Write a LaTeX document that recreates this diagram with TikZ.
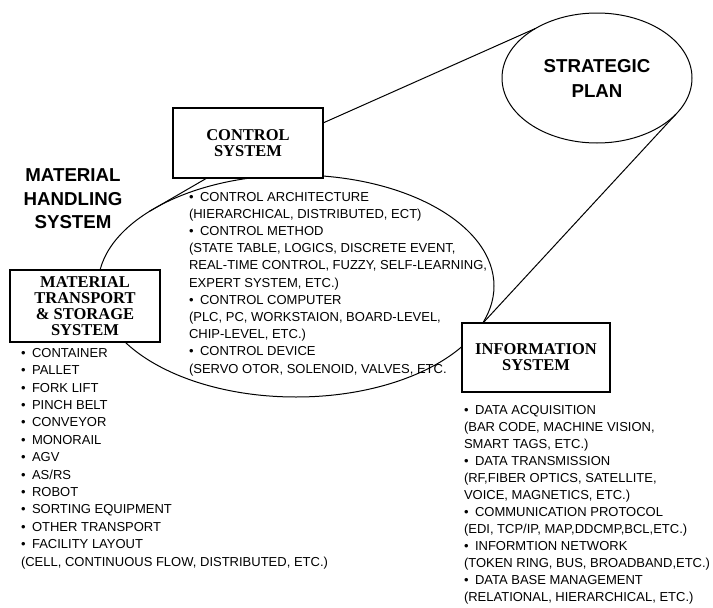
\documentclass[tikz,border=0pt]{standalone}
\usepackage{fontspec}
\setmainfont{Liberation Sans}
\newfontfamily\titlefont{Liberation Serif}
\usetikzlibrary{shapes.geometric}
\newcommand{\bul}{\textbullet\hspace{0.5em}}

\begin{document}
\begin{tikzpicture}[
  x=1pt, y=-1pt,
  every node/.style={inner sep=0pt, outer sep=0pt},
  sysbox/.style={draw, fill=white, line width=1.2pt, minimum width=150pt, minimum height=70pt, align=center, font=\titlefont\bfseries\fontsize{16.5}{16}\selectfont},
  bubble/.style={draw, ellipse, line width=1pt},
  heading/.style={align=center, font=\bfseries\fontsize{18.7}{23.4}\selectfont},
  itemlist/.style={anchor=north west, align=left, font=\fontsize{13}{17.2}\selectfont},
  link/.style={line width=1pt}
]
\useasboundingbox (0,0) rectangle (713,608);

\node[bubble, minimum width=396pt, minimum height=222pt] (hand) at (296,286) {};
\node[bubble, heading, minimum width=190pt, minimum height=130pt, font=\bfseries\fontsize{18.7}{25}\selectfont] (strat) at (597,78) {STRATEGIC\\PLAN};

\node[sysbox] (ctrl) at (248,143) {CONTROL\\SYSTEM};
\node[sysbox, minimum width=148pt, minimum height=69pt] (info) at (536,357.5) {INFORMATION\\SYSTEM};
\node[sysbox, minimum height=72pt] (mat) at (85,306) {MATERIAL\\TRANSPORT\\\& STORAGE\\SYSTEM};

\node[heading] (mhs) at (73,199) {MATERIAL\\HANDLING\\SYSTEM};

\draw[link] ([yshift=-15pt]ctrl.north east) -- (strat.141);
\draw[link] (strat.-25) -- ([xshift=21pt]info.north west);
\draw[link] ([xshift=34pt]ctrl.south west) -- (hand.153);

\node[itemlist] (ctrlitems) at (189,192) {\bul CONTROL ARCHITECTURE\\(HIERARCHICAL, DISTRIBUTED, ECT)\\\bul CONTROL METHOD\\(STATE TABLE, LOGICS, DISCRETE EVENT,\\REAL-TIME CONTROL, FUZZY, SELF-LEARNING,\\EXPERT SYSTEM, ETC.)\\\bul CONTROL COMPUTER\\(PLC, PC, WORKSTAION, BOARD-LEVEL,\\CHIP-LEVEL, ETC.)\\\bul CONTROL DEVICE\\(SERVO OTOR, SOLENOID, VALVES, ETC.};

\node[itemlist, font=\fontsize{13}{17.4}\selectfont] (matitems) at (21,348.3) {\bul CONTAINER\\\bul PALLET\\\bul FORK LIFT\\\bul PINCH BELT\\\bul CONVEYOR\\\bul MONORAIL\\\bul AGV\\\bul AS/RS\\\bul ROBOT\\\bul SORTING EQUIPMENT\\\bul OTHER TRANSPORT\\\bul FACILITY LAYOUT\\(CELL, CONTINUOUS FLOW, DISTRIBUTED, ETC.)};

\node[itemlist, font=\fontsize{13}{17}\selectfont] (infoitems) at (464,405.3) {\bul DATA ACQUISITION\\(BAR CODE, MACHINE VISION,\\SMART TAGS, ETC.)\\\bul DATA TRANSMISSION\\(RF,FIBER OPTICS, SATELLITE,\\VOICE, MAGNETICS, ETC.)\\\bul COMMUNICATION PROTOCOL\\(EDI, TCP/IP, MAP,DDCMP,BCL,ETC.)\\\bul INFORMTION NETWORK\\(TOKEN RING, BUS, BROADBAND,ETC.)\\\bul DATA BASE MANAGEMENT\\(RELATIONAL, HIERARCHICAL, ETC.)};
\end{tikzpicture}
\end{document}
